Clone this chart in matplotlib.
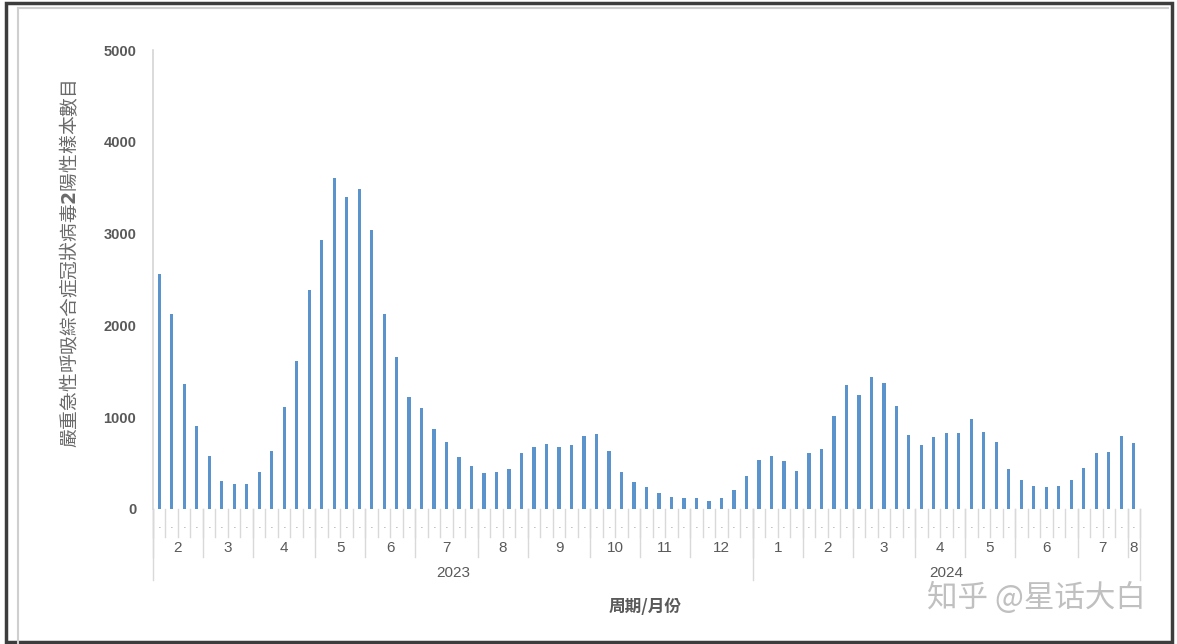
"""Weekly SARS-CoV-2 positive samples, bar chart with month / year category axis"""

import numpy as np
import matplotlib.pyplot as plt
from matplotlib.patches import Rectangle
from matplotlib.lines import Line2D

# weekly counts, Feb 2023 - Aug 2024
counts = [2560, 2120, 1365, 905,
          575, 310, 270, 270,
          400, 630, 1115, 1615, 2390,
          2930, 3610, 3400, 3490,
          3035, 2125, 1660, 1215,
          1105, 870, 735, 570, 470,
          390, 400, 440, 615,
          680, 705, 680, 695, 800,
          815, 630, 405, 290,
          240, 178, 132, 123,
          123, 84, 123, 203, 355,
          537, 577, 526, 414,
          606, 650, 1016, 1354,
          1238, 1434, 1369, 1125, 803,
          694, 781, 831, 831,
          984, 839, 730, 439,
          319, 250, 240, 250, 316,
          450, 610, 617, 792,
          716]

months = ["2", "3", "4", "5", "6", "7", "8", "9", "10", "11", "12",
          "1", "2", "3", "4", "5", "6", "7", "8"]
weeks_per_month = [4, 4, 5, 4, 4, 5, 4, 5, 4, 4, 5,
                   4, 4, 5, 4, 4, 5, 4, 1]
years = ["2023", "2024"]
months_per_year = [11, 8]

ylabel = "嚴重急性呼吸綜合症冠狀病毒$\\mathbf{2}$陽性樣本數目"
xlabel = "周期/月份"
watermark = "知乎 @星话大白"


def main():
	plt.rcParams['font.family'] = ['Noto Sans CJK TC', 'DejaVu Sans']
	num_font = ['Liberation Sans', 'DejaVu Sans']
	W, H = 1177, 644
	fig = plt.figure(figsize=(W / 100, H / 100), dpi=100)
	ax = fig.add_axes([153 / W, 1 - 509 / H, (1140 - 153) / W, (509 - 50) / H])

	n = len(counts)
	x = np.arange(n) + 0.5
	ax.bar(x, counts, width=0.26, color="#5b93cc")
	ax.set_xlim(0, n)
	ax.set_ylim(0, 5000)
	ax.set_yticks(range(0, 5001, 1000))
	ax.tick_params(axis="y", length=0, pad=12, labelsize=10.5, labelcolor="#595959")
	for t in ax.get_yticklabels():
		t.set_fontweight("bold")
		t.set_family(num_font)
	ax.set_xticks([])
	for s in ["top", "right", "bottom"]:
		ax.spines[s].set_visible(False)
	ax.spines["left"].set_color("#d4d4d4")
	ax.spines["left"].set_linewidth(1.2)

	# category axis drawn by hand
	tr = ax.get_xaxis_transform()
	axh = 509 - 50
	def fy(px):
		return -(px - 509) / axh
	grey = "#d9d9d9"
	for i in range(n + 1):
		ax.add_line(Line2D([i, i], [0, fy(537)], transform=tr, color=grey, lw=1, clip_on=False))
	for i in range(n):
		ax.text(x[i], fy(528), "·", transform=tr, ha="center", va="center",
			fontsize=8, color="#808080", family=num_font)
	edges = np.concatenate([[0], np.cumsum(weeks_per_month)])
	for j, m in enumerate(months):
		ax.add_line(Line2D([edges[j], edges[j]], [0, fy(557)], transform=tr, color=grey, lw=1, clip_on=False))
		ax.text((edges[j] + edges[j + 1]) / 2, fy(548), m, transform=tr, ha="center", va="center",
			fontsize=11, color="#5a5a5a", family=num_font)
	medges = np.concatenate([[0], np.cumsum(months_per_year)])
	for k, y in enumerate(years):
		a = edges[medges[k]]
		b = edges[medges[k + 1]]
		ax.add_line(Line2D([a, a], [0, fy(580)], transform=tr, color=grey, lw=1, clip_on=False))
		ax.text((a + b) / 2, fy(573), y, transform=tr, ha="center", va="center",
			fontsize=11, color="#5a5a5a", family=num_font)
	ax.add_line(Line2D([n, n], [0, fy(580)], transform=tr, color=grey, lw=1, clip_on=False))

	# axis titles
	fig.text(70 / W, 1 - 264 / H, ylabel, rotation=90, ha="center", va="center",
		fontsize=13.5, color="#6a6a6a")
	fig.text(645 / W, 1 - 607 / H, xlabel, ha="center", va="center",
		fontsize=12, fontweight="bold", color="#5a5a5a")
	fig.text(1146 / W, 1 - 598 / H, watermark, ha="right", va="center",
		fontsize=22, color="#c0c0c0", family=['Noto Sans CJK SC', 'DejaVu Sans'])

	# picture frame
	fig.add_artist(Line2D([18 / W, 18 / W], [0, 1 - 8 / H], transform=fig.transFigure, color="#cfcfcf", lw=1.5))
	fig.add_artist(Line2D([18 / W, 1168 / W], [1 - 8 / H, 1 - 8 / H], transform=fig.transFigure, color="#cfcfcf", lw=1.5))
	fig.add_artist(Rectangle((6 / W, 2 / H), (1172 - 6) / W, (641 - 2) / H, transform=fig.transFigure,
		fill=False, edgecolor="#3d3d3d", lw=2.5))

	fig.savefig("out.png", dpi=100)


if __name__ == "__main__":
	main()
